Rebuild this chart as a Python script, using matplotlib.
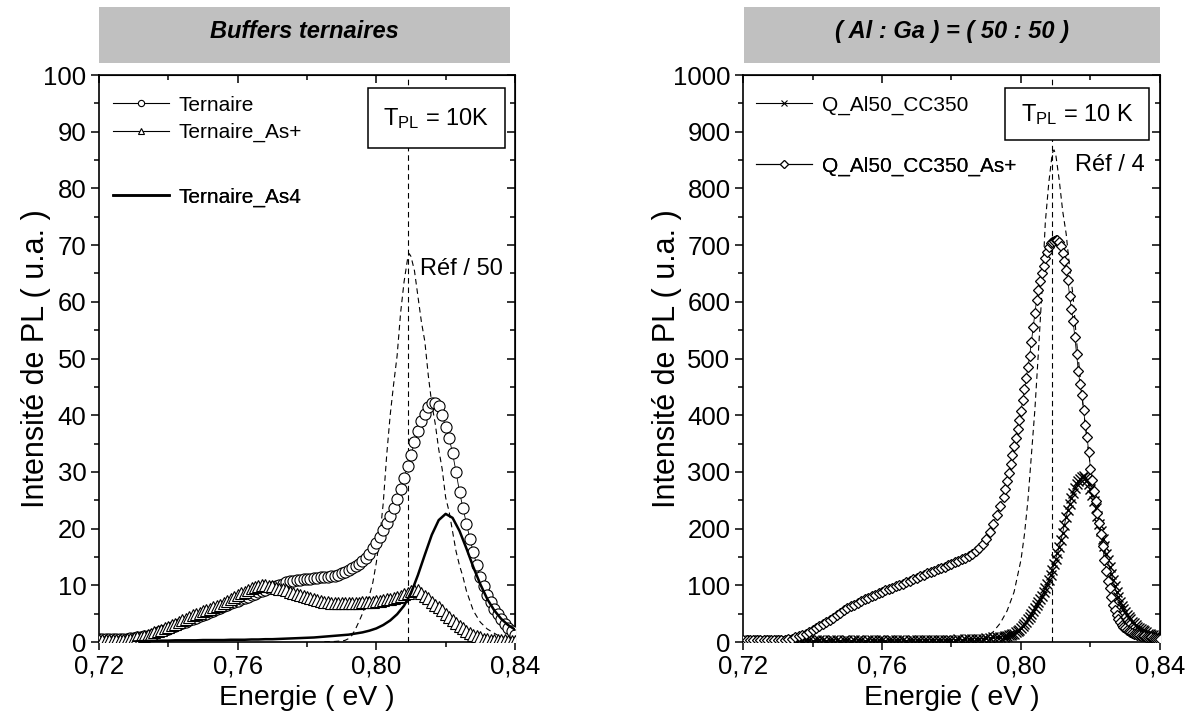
import numpy as np
import matplotlib
matplotlib.use('Agg')
import matplotlib.pyplot as plt
from matplotlib.lines import Line2D
from matplotlib.patches import Rectangle
from matplotlib.ticker import MultipleLocator

plt.rcParams['font.family'] = ['Liberation Sans', 'DejaVu Sans']
plt.rcParams['mathtext.fontset'] = 'custom'
plt.rcParams['mathtext.rm'] = 'Liberation Sans'
plt.rcParams['mathtext.default'] = 'regular'

# x axis ticks
x_major = [0.72, 0.76, 0.80, 0.84]
x_major_labels = ['0,72', '0,76', '0,80', '0,84']
x_minor = [0.74, 0.78, 0.82]
ref_line_energy = 0.809

# ---------------- left panel : Buffers ternaires ----------------
energy_left = np.round(np.arange(0.720, 0.8405, 0.001), 4)
ternaire = [
    0.5, 0.5, 0.5, 0.5, 0.5, 0.5, 0.5, 0.6, 0.6, 0.7,
    0.7, 0.8, 0.9, 1.0, 1.1, 1.3, 1.5, 1.7, 1.9, 2.1,
    2.3, 2.6, 2.8, 3.1, 3.3, 3.6, 3.8, 4.1, 4.3, 4.6,
    4.8, 5.0, 5.3, 5.5, 5.8, 6.0, 6.3, 6.5, 6.8, 7.0,
    7.3, 7.5, 7.8, 8.0, 8.3, 8.5, 8.8, 9.0, 9.2, 9.5,
    9.7, 9.9, 10.1, 10.3, 10.5, 10.7, 10.8, 10.9, 11.0, 11.1,
    11.2, 11.2, 11.3, 11.3, 11.4, 11.5, 11.5, 11.6, 11.7, 11.8,
    12.1, 12.4, 12.7, 13.0, 13.4, 13.8, 14.3, 14.9, 15.6, 16.5,
    17.5, 18.6, 19.8, 21.0, 22.3, 23.7, 25.2, 27.0, 29.0, 31.0,
    33.0, 35.2, 37.2, 38.9, 40.3, 41.4, 42.1, 42.2, 41.6, 40.0,
    38.0, 36.0, 33.3, 30.0, 26.5, 23.6, 20.9, 18.2, 15.8, 13.5,
    11.5, 9.8, 8.3, 7.0, 5.9, 4.9, 4.0, 3.2, 2.5, 1.9,
    1.3]
ternaire_as_plus = [
    0.3, 0.3, 0.3, 0.3, 0.3, 0.3, 0.4, 0.4, 0.5, 0.6,
    0.7, 0.8, 0.9, 1.1, 1.3, 1.5, 1.7, 1.9, 2.2, 2.4,
    2.7, 3.0, 3.2, 3.5, 3.8, 4.1, 4.4, 4.7, 4.9, 5.2,
    5.4, 5.6, 5.9, 6.1, 6.4, 6.6, 6.9, 7.2, 7.6, 7.9,
    8.3, 8.6, 8.9, 9.2, 9.5, 9.7, 9.9, 10.0, 10.0, 9.9,
    9.8, 9.6, 9.4, 9.3, 9.1, 8.9, 8.7, 8.5, 8.3, 8.1,
    7.9, 7.7, 7.5, 7.4, 7.2, 7.1, 7.0, 6.9, 6.8, 6.8,
    6.8, 6.8, 6.8, 6.8, 6.9, 6.9, 7.0, 7.0, 7.1, 7.1,
    7.2, 7.3, 7.4, 7.5, 7.6, 7.7, 7.9, 8.1, 8.4, 8.7,
    9.0, 9.2, 9.1, 8.7, 8.2, 7.7, 7.1, 6.6, 6.1, 5.6,
    5.0, 4.4, 3.9, 3.4, 2.9, 2.5, 2.0, 1.6, 1.3, 1.0,
    0.8, 0.6, 0.5, 0.4, 0.3, 0.3, 0.3, 0.3, 0.2, 0.2,
    0.2]
energy_as4 = np.round(np.arange(0.730, 0.8405, 0.002), 4)
ternaire_as4 = [
    0.1, 0.15, 0.2, 0.2, 0.25, 0.25, 0.3, 0.3, 0.3, 0.3,
    0.35, 0.35, 0.35, 0.35, 0.4, 0.4, 0.4, 0.45, 0.45, 0.5,
    0.5, 0.55, 0.6, 0.65, 0.7, 0.75, 0.8, 0.9, 1.0, 1.1,
    1.2, 1.3, 1.5, 1.7, 2.0, 2.4, 3.0, 3.8, 4.9, 6.4,
    8.6, 11.8, 15.4, 18.9, 21.5, 22.6, 21.9, 19.6, 16.5, 13.2,
    10.2, 7.6, 5.6, 4.1, 3.0, 2.2]
ref_left_energy = [0.785, 0.788, 0.790, 0.791, 0.792, 0.793, 0.794, 0.795, 0.796, 0.797,
                   0.798, 0.799, 0.800, 0.801, 0.802, 0.803, 0.804, 0.805, 0.806, 0.807,
                   0.808, 0.809, 0.8095, 0.810, 0.811, 0.812, 0.813, 0.814, 0.815, 0.816,
                   0.817, 0.818, 0.819, 0.820, 0.821, 0.822, 0.823, 0.824, 0.825, 0.826,
                   0.828, 0.830, 0.832, 0.835, 0.838, 0.840]
ref_left = [0.05, 0.1, 0.2, 0.3, 0.6, 1.2, 2.3, 3.6, 5.0, 6.6,
            8.2, 10.5, 14.0, 18.5, 24.5, 33.0, 40.0, 45.5, 50.5, 58.0,
            63.5, 67.5, 68.5, 68.0, 65.5, 61.0, 56.5, 53.0, 47.0, 42.0,
            38.5, 34.0, 30.5, 25.5, 23.0, 19.5, 16.0, 13.5, 11.5, 9.0,
            5.5, 3.5, 2.3, 1.2, 0.6, 0.4]

# ---------------- right panel : (Al:Ga) = (50:50) ----------------
energy_right = np.round(np.concatenate([np.arange(0.720, 0.7945, 0.001),
                                        np.arange(0.795, 0.84025, 0.0005)]), 4)
q_al50 = [
    3, 2, 4, 3, 2, 3, 4, 2, 3, 3, 2, 4, 3, 2, 3, 4, 3, 2, 3, 3,
    2, 3, 4, 3, 2, 3, 3, 4, 2, 3, 3, 2, 4, 3, 3, 2, 3, 4, 3, 3,
    3, 2, 4, 3, 3, 4, 3, 2, 3, 4, 3, 3, 4, 3, 4, 3, 4, 4, 3, 4,
    4, 4, 5, 4, 5, 5, 5, 6, 6, 6, 7, 7, 8, 8, 9,
    9, 10, 11, 12, 13, 14, 15, 17, 19, 22,
    25, 28, 32, 36, 40, 45, 50, 55, 60, 65,
    70, 75, 81, 88, 95, 102, 110, 118, 127, 137,
    147, 157, 168, 180, 193, 207, 221, 233, 244, 254,
    263, 271, 278, 284, 288, 291, 292, 290, 285, 279,
    270, 260, 248, 236, 222, 209, 196, 182, 169, 156,
    144, 132, 120, 109, 98, 88, 79, 71, 64, 58,
    53, 48, 44, 40, 36, 33, 30, 27, 25, 23,
    21, 19, 17, 15, 14, 13, 12, 11, 10, 9,
    8]
q_al50_as_plus = [
    3, 3, 3, 3, 3, 3, 3, 3, 3, 3,
    3, 3, 4, 5, 6, 8, 10, 12, 15, 18,
    21, 24, 28, 31, 35, 39, 43, 47, 52, 56,
    60, 63, 66, 69, 72, 75, 78, 81, 83, 86,
    88, 91, 93, 96, 98, 101, 103, 106, 108, 111,
    113, 116, 118, 121, 123, 126, 128, 131, 133, 136,
    138, 141, 143, 146, 149, 152, 155, 160, 166, 173,
    182, 194, 209, 224, 240,
    255, 270, 284, 298, 314, 330, 345, 360, 376, 392,
    408, 426, 446, 466, 485, 505, 530, 556, 580, 604,
    620, 637, 651, 664, 677, 688, 697, 703, 706, 707,
    709, 709, 706, 698, 686, 672, 657, 638, 610, 588,
    566, 538, 508, 478, 455, 435, 410, 383, 362, 335,
    306, 285, 266, 248, 228, 210, 190, 170, 145, 125,
    108, 96, 80, 66, 56, 47, 40, 35, 30, 27,
    24, 22, 20, 18, 16, 15, 14, 13, 12, 11,
    10, 10, 9, 9, 8, 8, 7, 7, 6, 6,
    5]
ref_right_energy = [0.786, 0.788, 0.790, 0.792, 0.794, 0.796, 0.798, 0.800, 0.801, 0.802,
                    0.803, 0.804, 0.805, 0.806, 0.807, 0.808, 0.809, 0.8095, 0.810, 0.811,
                    0.812, 0.813, 0.814, 0.815, 0.816, 0.817, 0.818, 0.819, 0.820, 0.821,
                    0.822, 0.823, 0.824, 0.825, 0.826, 0.827, 0.828, 0.830, 0.832, 0.835,
                    0.838, 0.840]
ref_right = [1, 3, 9, 18, 33, 55, 88, 145, 190, 250,
             330, 410, 510, 615, 740, 810, 862, 868, 860, 815,
             760, 720, 660, 610, 530, 470, 410, 355, 310, 280,
             245, 200, 160, 125, 95, 70, 50, 28, 15, 7,
             3, 2]

fig = plt.figure(figsize=(11.94, 7.2), dpi=100)
ax1 = fig.add_axes([0.0829, 0.1083, 0.3484, 0.7875])
ax2 = fig.add_axes([0.6223, 0.1083, 0.3492, 0.7875])


def style_axes(ax, ymax, ymajor, yminor, ylabel_x):
    ax.set_xlim(0.72, 0.84)
    ax.set_ylim(0, ymax)
    ax.set_xticks(x_major)
    ax.set_xticklabels(x_major_labels)
    ax.set_xticks(x_minor, minor=True)
    ax.yaxis.set_major_locator(MultipleLocator(ymajor))
    ax.yaxis.set_minor_locator(MultipleLocator(yminor))
    ax.tick_params(which='both', direction='out', width=1.1, labelsize=18.5, pad=3)
    ax.tick_params(which='major', length=6)
    ax.tick_params(which='minor', length=3.5)
    for s in ax.spines.values():
        s.set_linewidth(1.2)
    top = ax.secondary_xaxis('top')
    top.set_xticks(x_major)
    top.set_xticks(x_minor, minor=True)
    top.tick_params(which='both', direction='in', width=1.1, labeltop=False, labelbottom=False)
    top.tick_params(which='major', length=6)
    top.tick_params(which='minor', length=3.5)
    right = ax.secondary_yaxis('right')
    right.yaxis.set_major_locator(MultipleLocator(ymajor))
    right.yaxis.set_minor_locator(MultipleLocator(yminor))
    right.tick_params(which='both', direction='in', width=1.1, labelright=False, labelleft=False)
    right.tick_params(which='major', length=6)
    right.tick_params(which='minor', length=3.5)
    ax.set_xlabel('Energie ( eV )', fontsize=20.5, labelpad=5)
    ax.set_ylabel('Intensité de PL ( u.a. )', fontsize=22)
    ax.yaxis.set_label_coords(ylabel_x, 0.5)


def title_box(x0, width, text):
    tax = fig.add_axes([x0, 0.9125, width, 0.0778])
    tax.set_facecolor('#c0c0c0')
    tax.set_xticks([])
    tax.set_yticks([])
    for s in tax.spines.values():
        s.set_visible(False)
    tax.text(0.5, 0.56, text, ha='center', va='center', fontsize=17,
             fontweight='bold', fontstyle='italic')


def tpl_box(ax, x0, x1, y0, y1, text):
    ax.add_patch(Rectangle((x0, y0), x1 - x0, y1 - y0, transform=ax.transAxes,
                           facecolor='white', edgecolor='black', lw=1.1, zorder=5))
    ax.text((x0 + x1) / 2, (y0 + y1) / 2, text, transform=ax.transAxes,
            ha='center', va='center', fontsize=17, zorder=6)


def legend_row(ax, handle, label, x, y):
    leg = ax.legend(handles=[handle], labels=[label], loc='center left',
                    bbox_to_anchor=(x, y), frameon=False, fontsize=15,
                    handlelength=2.7, handletextpad=0.45, borderpad=0, borderaxespad=0)
    ax.add_artist(leg)


dash = (0, (5, 3.5))

# left panel
ax1.plot(energy_left, ternaire, color='black', lw=0.6, marker='o', ms=8,
         mfc='white', mec='black', mew=0.8, zorder=3)
ax1.plot(energy_left, ternaire_as_plus, color='black', lw=0.6, marker='^', ms=8,
         mfc='white', mec='black', mew=0.8, zorder=3)
ax1.plot(energy_as4, ternaire_as4, color='black', lw=1.8, zorder=4)
ax1.plot(ref_left_energy, ref_left, color='black', lw=0.8, ls=dash, zorder=2)
ax1.axvline(ref_line_energy, color='black', lw=0.8, ls=dash, zorder=2)
style_axes(ax1, 100, 10, 5, -0.115)
tpl_box(ax1, 0.647, 0.976, 0.871, 0.977, r'T$_{PL}$ = 10K')
ax1.text(0.772, 0.658, 'Réf / 50', transform=ax1.transAxes, fontsize=17,
         ha='left', va='center')
legend_row(ax1, Line2D([], [], color='black', lw=0.8, marker='o', ms=4.5, mfc='white', mew=0.8),
           'Ternaire', 0.033, 0.947)
legend_row(ax1, Line2D([], [], color='black', lw=0.8, marker='^', ms=4.5, mfc='white', mew=0.8),
           'Ternaire_As+', 0.033, 0.898)
legend_row(ax1, Line2D([], [], color='black', lw=1.8),
           'Ternaire_As4', 0.033, 0.785)

# right panel
ax2.plot(energy_right, q_al50, color='black', lw=0.6, marker='x', ms=7.5,
         mec='black', mew=1.0, zorder=3)
ax2.plot(energy_right, q_al50_as_plus, color='black', lw=0.6, marker='D', ms=5.5,
         mfc='white', mec='black', mew=0.9, zorder=3)
ax2.plot(ref_right_energy, ref_right, color='black', lw=0.8, ls=dash, zorder=2)
ax2.axvline(ref_line_energy, color='black', lw=0.8, ls=dash, zorder=2)
style_axes(ax2, 1000, 100, 50, -0.147)
tpl_box(ax2, 0.628, 0.974, 0.885, 0.977, r'T$_{PL}$ = 10 K')
ax2.text(0.796, 0.841, 'Réf / 4', transform=ax2.transAxes, fontsize=17,
         ha='left', va='center')
legend_row(ax2, Line2D([], [], color='black', lw=0.8, marker='x', ms=5, mew=0.8),
           'Q_Al50_CC350', 0.031, 0.947)
legend_row(ax2, Line2D([], [], color='black', lw=0.8, marker='D', ms=4.5, mfc='white', mew=0.8),
           'Q_Al50_CC350_As+', 0.031, 0.8395)

title_box(0.0829, 0.3442, 'Buffers ternaires')
title_box(0.6231, 0.3484, '( Al : Ga ) = ( 50 : 50 )')

fig.savefig('out.png', dpi=100)
